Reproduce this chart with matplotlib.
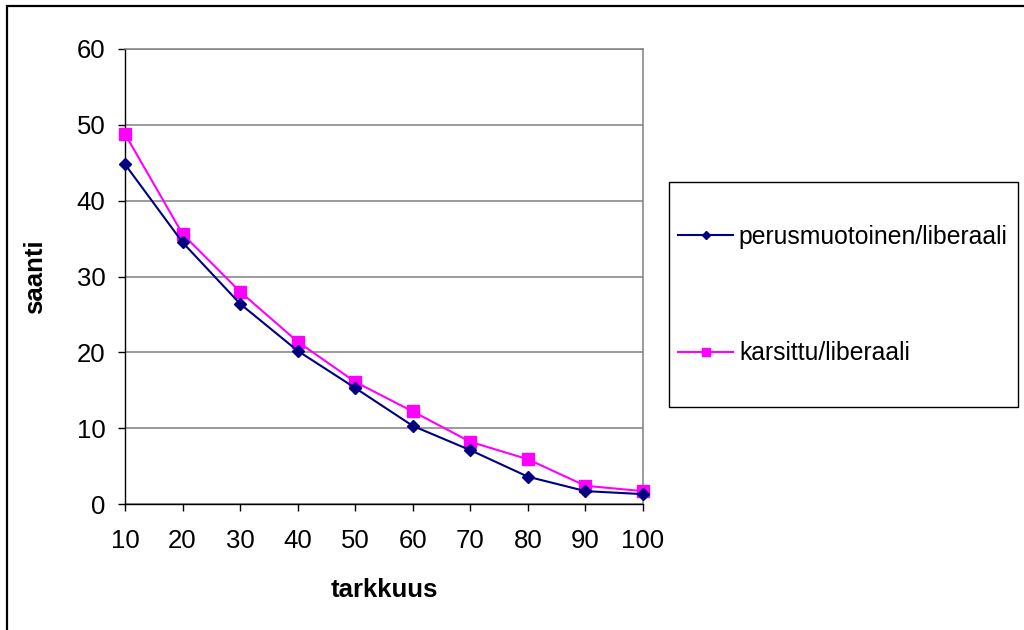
import matplotlib.pyplot as plt
from matplotlib.patches import Rectangle

plt.rcParams['font.family'] = ['Liberation Sans', 'DejaVu Sans']

# data
tarkkuus = [10, 20, 30, 40, 50, 60, 70, 80, 90, 100]
perusmuotoinen = [44.8, 34.5, 26.4, 20.2, 15.3, 10.3, 7.1, 3.6, 1.7, 1.3]
karsittu = [48.8, 35.6, 28.0, 21.4, 16.1, 12.2, 8.2, 5.9, 2.4, 1.7]

W, H = 1024, 630
fs = 18.5
fig = plt.figure(figsize=(W / 100, H / 100), dpi=100)
ax = fig.add_axes([125 / W, (H - 504) / H, (643 - 125) / W, (504 - 49) / H])

pos = list(range(len(tarkkuus)))
ax.plot(pos, perusmuotoinen, color='#000080', lw=1.5, marker='D', ms=6,
        label='perusmuotoinen/liberaali', clip_on=False, zorder=4)
ax.plot(pos, karsittu, color='#FF00FF', lw=1.5, marker='s', ms=8.5,
        label='karsittu/liberaali', clip_on=False, zorder=3)

ax.set_xlim(0, len(tarkkuus) - 1)
ax.set_ylim(0, 60)
ax.set_xticks(pos)
ax.set_xticklabels([str(t) for t in tarkkuus])
ax.set_yticks(range(0, 61, 10))
ax.tick_params(direction='out', length=5, width=1, labelsize=fs)
ax.tick_params(axis='x', pad=13)
ax.tick_params(axis='y', pad=9)

ax.grid(axis='y', color='#808080', lw=1.1)
ax.set_axisbelow(True)
for s in ['top', 'right']:
    ax.spines[s].set_color('#808080')
    ax.spines[s].set_linewidth(1.1)
for s in ['left', 'bottom']:
    ax.spines[s].set_color('black')
    ax.spines[s].set_linewidth(1)

ax.set_xlabel('tarkkuus', fontsize=fs, fontweight='bold')
ax.set_ylabel('saanti', fontsize=fs, fontweight='bold')
ax.xaxis.set_label_coords(0.5, -0.163)
ax.yaxis.set_label_coords(-0.151, 0.5)

# legend box
fig.patches.append(Rectangle((669 / W, 1 - 407 / H), 349 / W, 225 / H,
                             transform=fig.transFigure, fill=False,
                             edgecolor='black', lw=1))
ax.legend(loc='center left', bbox_to_anchor=(666 / W, 1 - 295 / H),
          bbox_transform=fig.transFigure, frameon=False, fontsize=17.8,
          borderpad=0, handlelength=2.2, handletextpad=0.25,
          labelspacing=3.75, markerscale=0.75)

# outer chart border (runs off the bottom and right edge)
fig.patches.append(Rectangle((7 / W, -0.1), 1.2, 1.1 - 6 / H,
                             transform=fig.transFigure, fill=False,
                             edgecolor='black', lw=1.6))

fig.savefig('out.png', dpi=100)
